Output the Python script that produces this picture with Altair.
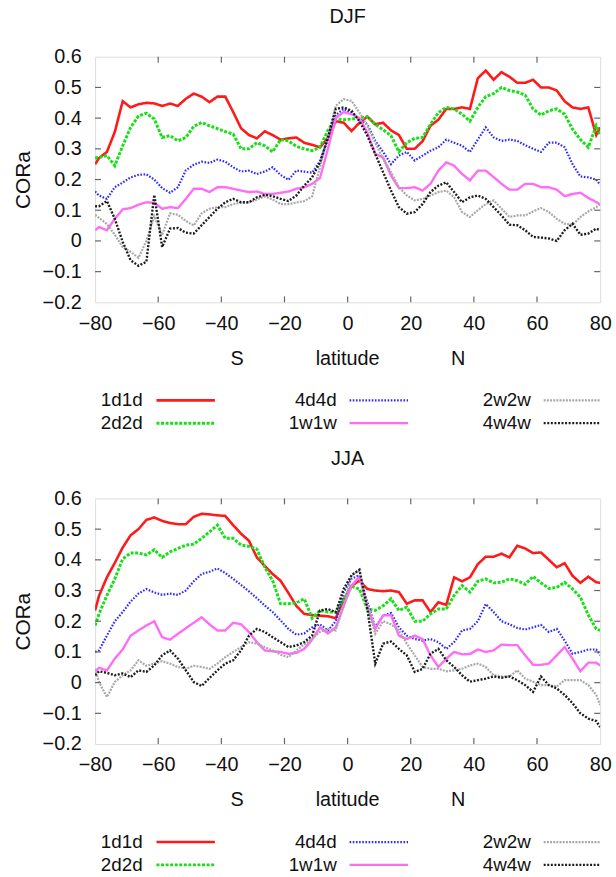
import altair as alt
import pandas as pd

FONT = "Liberation Sans"

# latitude of each zonal band
LAT = [-80, -78.75, -76.25, -73.75, -71.25, -68.75, -66.25, -63.75, -61.25, -58.75,
       -56.25, -53.75, -51.25, -48.75, -46.25, -43.75, -41.25, -38.75, -36.25, -33.75,
       -31.25, -28.75, -26.25, -23.75, -21.25, -18.75, -16.25, -13.75, -11.25, -8.75,
       -6.25, -3.75, -1.25,
       1.25, 3.75, 6.25, 8.75, 11.25, 13.75, 16.25, 18.75, 21.25, 23.75,
       26.25, 28.75, 31.25, 33.75, 36.25, 38.75, 41.25, 43.75, 46.25, 48.75,
       51.25, 53.75, 56.25, 58.75, 61.25, 63.75, 66.25, 68.75, 71.25, 73.75,
       76.25, 78.75, 80]

SERIES = ["1d1d", "2d2d", "4d4d", "1w1w", "2w2w", "4w4w"]

# ---- DJF ----
djf_1d1d = [0.25, 0.27, 0.29, 0.355, 0.455, 0.435, 0.445, 0.45, 0.448, 0.44, 0.447, 0.44, 0.463, 0.48, 0.47, 0.452, 0.47, 0.47, 0.42, 0.367, 0.345, 0.334, 0.357, 0.345, 0.33, 0.334, 0.337, 0.32, 0.313, 0.305, 0.335, 0.39, 0.385,
            0.358, 0.385, 0.405, 0.38, 0.385, 0.36, 0.345, 0.30, 0.30, 0.325, 0.375, 0.395, 0.43, 0.43, 0.435, 0.43, 0.53, 0.555, 0.525, 0.55, 0.535, 0.515, 0.515, 0.525, 0.50, 0.50, 0.49, 0.455, 0.435, 0.43, 0.435, 0.345, 0.37]
djf_2d2d = [0.27, 0.272, 0.278, 0.245, 0.31, 0.37, 0.407, 0.416, 0.397, 0.337, 0.343, 0.326, 0.337, 0.373, 0.386, 0.375, 0.366, 0.356, 0.348, 0.30, 0.30, 0.32, 0.31, 0.29, 0.33, 0.326, 0.308, 0.30, 0.294, 0.305, 0.36, 0.397, 0.395,
            0.397, 0.40, 0.405, 0.38, 0.362, 0.343, 0.29, 0.32, 0.334, 0.337, 0.38, 0.418, 0.435, 0.43, 0.413, 0.39, 0.435, 0.47, 0.48, 0.50, 0.49, 0.485, 0.475, 0.43, 0.41, 0.424, 0.43, 0.413, 0.364, 0.33, 0.305, 0.375, 0.345]
djf_4d4d = [0.161, 0.148, 0.137, 0.175, 0.19, 0.207, 0.215, 0.217, 0.20, 0.172, 0.157, 0.175, 0.23, 0.248, 0.258, 0.254, 0.265, 0.258, 0.24, 0.226, 0.229, 0.218, 0.226, 0.24, 0.215, 0.199, 0.229, 0.226, 0.222, 0.26, 0.33, 0.41, 0.43,
            0.418, 0.397, 0.38, 0.326, 0.29, 0.25, 0.278, 0.29, 0.262, 0.278, 0.294, 0.305, 0.33, 0.32, 0.31, 0.29, 0.33, 0.37, 0.337, 0.326, 0.33, 0.326, 0.312, 0.30, 0.29, 0.32, 0.32, 0.305, 0.25, 0.21, 0.207, 0.20, 0.183]
djf_1w1w = [0.035, 0.045, 0.035, 0.072, 0.103, 0.107, 0.118, 0.126, 0.124, 0.105, 0.11, 0.107, 0.137, 0.17, 0.17, 0.159, 0.175, 0.175, 0.17, 0.164, 0.159, 0.161, 0.153, 0.153, 0.157, 0.161, 0.17, 0.175, 0.186, 0.205, 0.30, 0.40, 0.42,
            0.413, 0.40, 0.353, 0.283, 0.272, 0.213, 0.172, 0.172, 0.175, 0.164, 0.186, 0.229, 0.256, 0.245, 0.218, 0.197, 0.229, 0.229, 0.208, 0.186, 0.167, 0.167, 0.186, 0.186, 0.175, 0.175, 0.167, 0.146, 0.153, 0.157, 0.14, 0.127, 0.118]
djf_2w2w = [0.085, 0.075, 0.055, 0.02, -0.02, -0.035, -0.055, 0.0, 0.08, 0.02, 0.09, 0.085, 0.065, 0.05, 0.09, 0.105, 0.11, 0.11, 0.12, 0.125, 0.125, 0.135, 0.145, 0.135, 0.12, 0.12, 0.125, 0.13, 0.145, 0.24, 0.34, 0.44, 0.462,
            0.456, 0.418, 0.375, 0.32, 0.267, 0.224, 0.175, 0.148, 0.132, 0.137, 0.148, 0.159, 0.164, 0.142, 0.094, 0.078, 0.10, 0.12, 0.132, 0.105, 0.078, 0.083, 0.083, 0.096, 0.107, 0.094, 0.072, 0.056, 0.053, 0.078, 0.096, 0.11, 0.12]
djf_4w4w = [0.113, 0.113, 0.13, 0.072, -0.003, -0.063, -0.081, -0.068, 0.15, -0.02, 0.04, 0.042, 0.027, 0.024, 0.051, 0.078, 0.105, 0.126, 0.137, 0.126, 0.126, 0.142, 0.15, 0.146, 0.137, 0.13, 0.148, 0.18, 0.207, 0.256, 0.337, 0.43, 0.435,
            0.424, 0.39, 0.343, 0.283, 0.224, 0.164, 0.11, 0.089, 0.094, 0.12, 0.159, 0.18, 0.191, 0.159, 0.126, 0.142, 0.148, 0.137, 0.11, 0.083, 0.053, 0.051, 0.035, 0.013, 0.011, 0.008, 0.0, 0.035, 0.056, 0.02, 0.024, 0.04, 0.035]

# ---- JJA ----
jja_1d1d = [0.235, 0.283, 0.343, 0.39, 0.44, 0.48, 0.50, 0.53, 0.538, 0.527, 0.52, 0.516, 0.516, 0.54, 0.55, 0.548, 0.545, 0.543, 0.513, 0.485, 0.462, 0.408, 0.38, 0.354, 0.332, 0.292, 0.25, 0.224, 0.22, 0.218, 0.216, 0.21, 0.27,
            0.316, 0.332, 0.305, 0.30, 0.298, 0.30, 0.295, 0.257, 0.268, 0.268, 0.23, 0.262, 0.253, 0.343, 0.33, 0.343, 0.386, 0.41, 0.41, 0.42, 0.408, 0.446, 0.437, 0.422, 0.424, 0.40, 0.376, 0.389, 0.348, 0.325, 0.345, 0.327, 0.325]
jja_2d2d = [0.186, 0.224, 0.284, 0.338, 0.403, 0.422, 0.422, 0.416, 0.433, 0.408, 0.426, 0.437, 0.448, 0.451, 0.47, 0.491, 0.513, 0.47, 0.47, 0.448, 0.444, 0.435, 0.376, 0.332, 0.257, 0.257, 0.26, 0.273, 0.21, 0.235, 0.23, 0.23, 0.27,
            0.314, 0.305, 0.24, 0.235, 0.25, 0.273, 0.235, 0.246, 0.20, 0.20, 0.224, 0.24, 0.24, 0.284, 0.316, 0.295, 0.33, 0.338, 0.325, 0.327, 0.338, 0.332, 0.32, 0.346, 0.325, 0.307, 0.31, 0.327, 0.305, 0.278, 0.22, 0.175, 0.17]
jja_4d4d = [0.10, 0.105, 0.153, 0.20, 0.23, 0.264, 0.29, 0.305, 0.294, 0.286, 0.29, 0.286, 0.30, 0.33, 0.354, 0.361, 0.372, 0.357, 0.338, 0.318, 0.297, 0.275, 0.251, 0.23, 0.203, 0.175, 0.156, 0.16, 0.18, 0.19, 0.17, 0.20, 0.294,
            0.338, 0.35, 0.262, 0.18, 0.219, 0.227, 0.18, 0.153, 0.142, 0.137, 0.142, 0.132, 0.11, 0.132, 0.17, 0.175, 0.20, 0.256, 0.23, 0.20, 0.19, 0.178, 0.173, 0.18, 0.188, 0.165, 0.175, 0.137, 0.094, 0.10, 0.108, 0.108, 0.09]
jja_1w1w = [0.037, 0.048, 0.04, 0.078, 0.108, 0.153, 0.17, 0.186, 0.20, 0.148, 0.14, 0.159, 0.177, 0.195, 0.213, 0.19, 0.17, 0.17, 0.195, 0.19, 0.165, 0.132, 0.105, 0.102, 0.10, 0.094, 0.097, 0.11, 0.14, 0.18, 0.16, 0.18, 0.25,
            0.316, 0.345, 0.25, 0.175, 0.219, 0.22, 0.153, 0.142, 0.153, 0.142, 0.089, 0.051, 0.078, 0.10, 0.092, 0.093, 0.108, 0.10, 0.105, 0.124, 0.122, 0.122, 0.089, 0.058, 0.058, 0.062, 0.089, 0.116, 0.078, 0.037, 0.065, 0.065, 0.056]
jja_2w2w = [0.045, 0.002, -0.047, 0.002, 0.024, 0.04, 0.073, 0.055, 0.062, 0.07, 0.062, 0.051, 0.045, 0.055, 0.051, 0.045, 0.062, 0.083, 0.10, 0.116, 0.132, 0.127, 0.116, 0.105, 0.091, 0.083, 0.105, 0.124, 0.143, 0.165, 0.175, 0.17, 0.25,
            0.35, 0.365, 0.25, 0.159, 0.20, 0.19, 0.17, 0.127, 0.089, 0.051, 0.045, 0.045, 0.037, 0.04, 0.045, 0.056, 0.062, 0.051, 0.024, 0.02, 0.02, 0.04, 0.013, 0.003, -0.008, -0.008, -0.013, 0.008, 0.008, 0.008, -0.008, -0.04, -0.073]
jja_4w4w = [0.024, 0.037, 0.032, 0.024, 0.03, 0.018, 0.04, 0.035, 0.056, 0.089, 0.105, 0.078, 0.04, 0.002, -0.011, 0.015, 0.04, 0.062, 0.073, 0.105, 0.153, 0.175, 0.165, 0.148, 0.132, 0.116, 0.121, 0.132, 0.153, 0.235, 0.24, 0.229, 0.305,
            0.35, 0.368, 0.24, 0.062, 0.127, 0.134, 0.11, 0.089, 0.035, 0.045, 0.094, 0.11, 0.073, 0.051, 0.024, 0.003, 0.008, 0.013, 0.02, 0.016, 0.02, 0.008, -0.008, -0.03, 0.02, -0.008, -0.019, -0.04, -0.067, -0.10, -0.117, -0.125, -0.145]

X_TICKS = [-80, -60, -40, -20, 0, 20, 40, 60, 80]
Y_TICKS = [-0.2, -0.1, 0, 0.1, 0.2, 0.3, 0.4, 0.5, 0.6]
INNER_X = [-60, -40, -20, 0, 20, 40, 60]
INNER_Y = [-0.1, 0, 0.1, 0.2, 0.3, 0.4, 0.5]
HEMI_LAT = [-35, 0, 35]
HEMI_TEXT = ["S", "latitude", "N"]

STYLE = {
    "1d1d": dict(color="#ff1a1a", dash=[1, 0], width=2.6),
    "2d2d": dict(color="#16e016", dash=[3, 1.6], width=3.0),
    "4d4d": dict(color="#2a2aff", dash=[1.6, 1.6], width=2.2),
    "1w1w": dict(color="#ff6cf5", dash=[1, 0], width=2.4),
    "2w2w": dict(color="#a8a8a8", dash=[2, 1.2], width=2.2),
    "4w4w": dict(color="#1c1c1c", dash=[2, 1.6], width=2.4),
}

W, H = 510, 248
FRAME = "#666666"
FS = 20

# legend layout: (label right edge, sample start, sample end) per column, y per row, in panel pixels
LEG_COLS = [(48, 62, 121), (244, 257, 316), (440, 453, 510)]
LEG_ROWS = [347, 370]
LEG_SLOT = {"1d1d": (0, 0), "2d2d": (0, 1), "4d4d": (1, 0),
            "1w1w": (1, 1), "2w2w": (2, 0), "4w4w": (2, 1)}

XS = alt.Scale(domain=[-80, 80], nice=False, zero=False)
YS = alt.Scale(domain=[-0.2, 0.6], nice=False, zero=False)
X_AXIS = alt.Axis(values=X_TICKS, title=None, ticks=False, domain=False, grid=False,
                  labelFont=FONT, labelFontSize=FS, labelColor="#111",
                  labelPadding=11, labelFlush=False)
Y_AXIS = alt.Axis(values=Y_TICKS, title="CORa", ticks=False, domain=False, grid=False,
                  labelFont=FONT, labelFontSize=FS, labelColor="#111",
                  labelPadding=14,
                  labelExpr="datum.value == 0 ? '0' : format(datum.value, '.1f')",
                  titleFont=FONT, titleFontSize=21, titleFontWeight="normal",
                  titleColor="#111", titlePadding=9)


def xenc(field):
    return alt.X(field, type="quantitative", scale=XS, axis=X_AXIS, title=None)


def yenc(field):
    return alt.Y(field, type="quantitative", scale=YS, axis=Y_AXIS, title="CORa")


def panel(season, series_values):
    df = pd.DataFrame([
        {"lat": la, "value": v, "series": s}
        for s, vals in zip(SERIES, series_values)
        for la, v in zip(LAT, vals)
    ])

    layers = []
    for s in SERIES:
        st = STYLE[s]
        layers.append(
            alt.Chart(df).transform_filter(alt.datum.series == s)
            .mark_line(color=st["color"], strokeDash=st["dash"], strokeWidth=st["width"], clip=True)
            .encode(x=xenc("lat"), y=yenc("value"))
        )

    # inward tick marks on all four sides of the frame
    xt = pd.DataFrame({"lat": INNER_X})
    yt = pd.DataFrame({"value": INNER_Y})
    for a, b in [(H, H - 6), (0, 6)]:
        layers.append(alt.Chart(xt).mark_rule(color=FRAME, strokeWidth=1.2).encode(
            x=xenc("lat"), y=alt.value(a), y2=alt.value(b)))
    for a, b in [(0, 6), (W, W - 6)]:
        layers.append(alt.Chart(yt).mark_rule(color=FRAME, strokeWidth=1.2).encode(
            y=yenc("value"), x=alt.value(a), x2=alt.value(b)))

    # hemisphere labels under the axis
    layers.append(alt.Chart(pd.DataFrame({"lat": HEMI_LAT, "txt": HEMI_TEXT})).mark_text(
        font=FONT, fontSize=FS, color="#111", baseline="middle", align="center").encode(
        x=xenc("lat"), y=alt.value(305), text="txt:N"))

    # legend: label on the left, line sample on the right
    one = pd.DataFrame({"k": [0]})
    for s in SERIES:
        st = STYLE[s]
        c, r = LEG_SLOT[s]
        lx, a, b = LEG_COLS[c]
        yy = LEG_ROWS[r]
        layers.append(alt.Chart(one).mark_text(
            text=s, font=FONT, fontSize=19, color="#111", align="right", baseline="middle").encode(
            x=alt.value(lx), y=alt.value(yy)))
        layers.append(alt.Chart(one).mark_rule(
            color=st["color"], strokeDash=st["dash"], strokeWidth=st["width"]).encode(
            x=alt.value(a), x2=alt.value(b), y=alt.value(yy)))

    return alt.layer(*layers).properties(
        width=W, height=H,
        title=alt.TitleParams(season, font=FONT, fontSize=FS, fontWeight="normal",
                              color="#111", anchor="middle", offset=20),
    )


top = panel("DJF", [djf_1d1d, djf_2d2d, djf_4d4d, djf_1w1w, djf_2w2w, djf_4w4w])
bottom = panel("JJA", [jja_1d1d, jja_2d2d, jja_4d4d, jja_1w1w, jja_2w2w, jja_4w4w])

chart = alt.vconcat(top, bottom, spacing=198, bounds="flush").properties(
    padding={"left": 12, "top": 2, "right": 4, "bottom": 0}
).configure_view(stroke=FRAME, strokeWidth=1.4).configure(background="white")

chart.save("out.html", embed_options={"renderer": "svg", "actions": False})
